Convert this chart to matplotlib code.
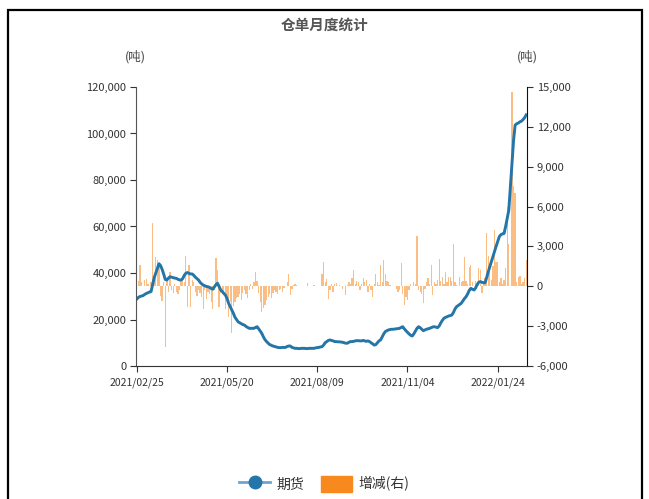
import numpy as np
import matplotlib
matplotlib.use("Agg")
import matplotlib.pyplot as plt
from matplotlib.lines import Line2D
from matplotlib.patches import Patch, Rectangle
from matplotlib.ticker import FuncFormatter

plt.rcParams['font.family'] = ['Noto Sans CJK SC', 'DejaVu Sans']

# 期货 warehouse receipts, thousand tons (left axis)
futures_k = [
    28.8, 29.5, 29.9, 30.1, 30.3, 30.8, 31.2, 31.5, 31.8, 32.0,
    35.0, 38.0, 40.0, 42.0, 44.0, 43.2, 41.6, 39.5, 37.2, 37.0,
    37.8, 38.4, 38.2, 38.0, 37.8, 37.7, 37.3, 37.0, 37.0, 37.6,
    39.0, 39.9, 40.2, 39.8, 39.6, 39.6, 39.0, 38.2, 37.6, 37.0,
    36.0, 35.3, 34.8, 34.5, 34.2, 34.1, 33.8, 33.3, 33.0, 34.0,
    35.0, 35.6, 34.2, 32.7, 32.0, 31.2, 30.5, 29.0, 27.0, 25.5,
    24.1, 22.7, 21.0, 20.0, 19.0, 18.6, 18.2, 17.8, 17.6, 17.0,
    16.6, 16.2, 16.2, 16.2, 16.2, 16.6, 16.9, 16.0, 15.0, 14.0,
    12.5, 11.3, 10.5, 9.8, 9.2, 8.9, 8.6, 8.4, 8.2, 8.0,
    7.9, 7.9, 8.0, 8.0, 8.0, 8.4, 8.6, 8.6, 8.0, 7.8,
    7.6, 7.6, 7.5, 7.5, 7.6, 7.6, 7.6, 7.5, 7.5, 7.6,
    7.6, 7.6, 7.6, 7.8, 7.9, 8.0, 8.2, 8.3, 9.0, 10.0,
    10.5, 11.0, 11.2, 11.0, 10.8, 10.5, 10.5, 10.4, 10.4, 10.3,
    10.2, 10.0, 9.8, 9.8, 10.2, 10.5, 10.5, 10.6, 10.8, 10.9,
    10.9, 10.8, 10.8, 11.0, 10.8, 10.6, 10.8, 10.5, 10.0, 9.5,
    9.0, 9.2, 10.0, 10.8, 11.2, 12.5, 13.8, 14.8, 15.2, 15.5,
    15.7, 15.8, 15.8, 15.9, 16.0, 16.1, 16.2, 16.6, 16.9, 16.0,
    15.2, 14.5, 13.8, 13.2, 12.9, 13.8, 15.0, 16.2, 16.9, 16.5,
    15.8, 15.2, 15.5, 15.8, 16.0, 16.2, 16.5, 16.8, 16.9, 16.7,
    16.5, 17.2, 18.5, 19.6, 20.5, 20.9, 21.2, 21.5, 21.7, 21.9,
    23.0, 24.5, 25.5, 26.0, 26.5, 27.0, 28.0, 29.0, 29.8, 31.0,
    32.5, 33.4, 33.0, 32.7, 33.5, 35.0, 36.0, 36.3, 36.0, 35.8,
    35.8, 38.0, 40.5, 42.7, 45.0, 47.0, 49.2, 51.5, 53.5, 55.6,
    56.5, 56.8, 57.0, 60.0, 63.5, 67.0, 77.0, 87.0, 97.0, 103.6,
    104.2, 104.5, 105.0, 105.3, 106.0, 106.8, 108.0,
]

# 增减(右), tons
change = [
    0, 400, 1580, 300, 0, 450, 580, 200, 0, 300,
    4750, 600, 2200, 1950, 1700, -700, -1100, 300, -4600, 500,
    -400, 1100, -300, -500, 200, -400, -600, -300, 400, 700,
    300, 2300, -1550, 1580, -1550, 500, 300, -400, -700, -300,
    -500, -800, -1680, -300, -930, -400, -600, -1180, -1680, -300,
    2160, 1200, -1560, -500, -400, -600, -1680, -800, -2300, -1200,
    -3500, -1500, -1200, -900, -800, -600, -1000, -500, -300, -600,
    -900, -300, 200, -200, 300, 1100, 400, -500, -1200, -1930,
    -1600, -1400, -1000, -800, -600, -900, -500, -300, -400, -600,
    -300, -200, -400, -100, 0, 300, 950, -680, -200, 100,
    200, 100, 0, 0, 0, 0, 0, 0, 250, 0,
    0, 0, 100, 0, 0, 0, 0, 950, 1830, 300,
    580, -930, -300, 150, -400, 200, 250, 0, 100, 0,
    -200, 0, -680, 100, 300, 200, 600, 1200, 200, 400,
    300, -300, 200, 600, 300, 450, -400, 200, -300, -800,
    200, 950, 300, 100, 1630, 300, 2000, 950, 400, 330,
    100, 0, 0, 0, -200, -400, -300, 1760, -600, -1430,
    -800, -1050, -300, 200, 0, 300, 200, 3760, -300, -430,
    -600, -1250, -200, 300, 600, 200, 1580, -680, 300, 200,
    500, 2030, 400, 700, 200, 1080, 300, 700, 700, 400,
    3160, 300, 100, 0, 700, 300, 400, 2210, 400, 200,
    1450, 1630, 300, 0, 400, 0, 1380, 1200, -480, 300,
    600, 4010, 2280, 1080, 500, 1500, 4270, 1830, 1830, 300,
    600, 200, 500, 1380, 5970, 3200, 0, 14600, 7530, 7020,
    300, 700, 800, 200, 300, 600, 1960,
]

tick_pos = [0, 57, 114, 171, 228]
tick_labels = ['2021/02/25', '2021/05/20', '2021/08/09', '2021/11/04', '2022/01/24']

line_color = '#2475a8'
bar_color = '#f7891f'

fig = plt.figure(figsize=(6.49, 4.99), dpi=100)
ax = fig.add_axes([136 / 649, 1 - 366 / 499, (527 - 136) / 649, (366 - 87) / 499])
ax2 = ax.twinx()

x = np.arange(len(futures_k))
ax2.bar(x, change, width=0.8, color=bar_color, alpha=0.55, linewidth=0)
ax.plot(x, np.array(futures_k) * 1000, color=line_color, lw=2.1, solid_joinstyle='round')

# line on top of bars
ax.set_zorder(ax2.get_zorder() + 1)
ax.patch.set_visible(False)

ax.set_xlim(-0.5, len(futures_k) - 0.5)
ax.set_ylim(0, 120000)
ax.set_yticks(np.arange(0, 120001, 20000))
ax2.set_ylim(-6000, 15000)
ax2.set_yticks(np.arange(-6000, 15001, 3000))
fmt = FuncFormatter(lambda v, p: f'{int(v):,}')
ax.yaxis.set_major_formatter(fmt)
ax2.yaxis.set_major_formatter(fmt)
ax.set_xticks(tick_pos)
ax.set_xticklabels(tick_labels)

for a in (ax, ax2):
    a.tick_params(labelsize=8, colors='#333333', length=4, width=0.8, pad=3)
    for s in a.spines.values():
        s.set_visible(False)
ax.spines['left'].set_visible(True)
ax.spines['left'].set_color('#555555')
ax.spines['bottom'].set_visible(True)
ax.spines['bottom'].set_color('#333333')
ax2.spines['right'].set_visible(True)
ax2.spines['right'].set_color('#111111')
ax.tick_params(axis='x', labelsize=7.5, pad=4)

fig.text(0.5, 1 - 25 / 499, '仓单月度统计', ha='center', va='center',
         fontsize=10.5, fontweight='bold', color='#555555')
fig.text(135 / 649, 1 - 57 / 499, '(吨)', ha='center', va='center', fontsize=9, color='#444444')
fig.text(527 / 649, 1 - 57 / 499, '(吨)', ha='center', va='center', fontsize=9, color='#444444')

handles = [
    Line2D([], [], color='#6aa6cf', lw=2, marker='o', markersize=9,
           markerfacecolor=line_color, markeredgecolor=line_color),
    Patch(facecolor=bar_color, edgecolor=bar_color),
]
fig.legend(handles, ['期货', '增减(右)'], loc='center', bbox_to_anchor=(0.5, 1 - 484 / 499),
           ncol=2, frameon=False, fontsize=10, handlelength=2.2, handleheight=1.4,
           columnspacing=1.2, handletextpad=0.5, labelcolor='#333333')

# outer frame
fig.patches.append(Rectangle((8 / 649, -0.05), 634 / 649, 1 - 10 / 499 + 0.05,
                             transform=fig.transFigure, fill=False,
                             edgecolor='black', lw=1.6))

fig.savefig('out.png', dpi=100)
